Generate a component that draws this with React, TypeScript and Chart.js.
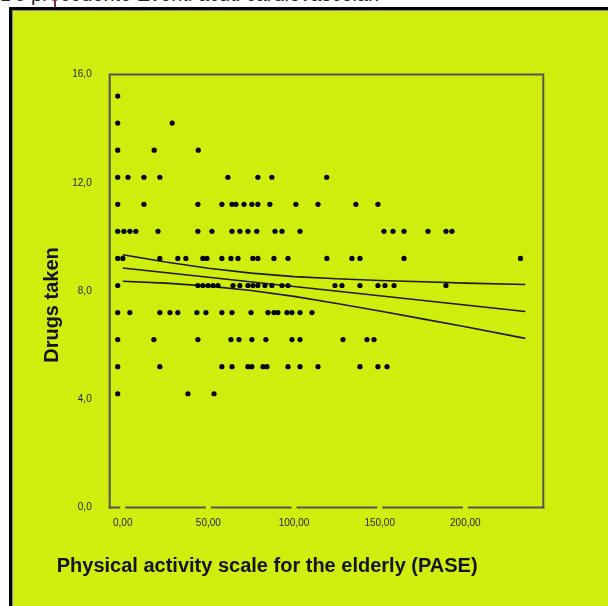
import React, { useEffect, useRef } from "react";
import { Chart, registerables } from "chart.js";

Chart.register(...registerables);

// ---- axis ticks / ranges ----
const xTickValues = [0, 50, 100, 150, 200];
const yTickValues = [0, 4, 8, 12, 16];
const xRange = [-7.6, 245.5];
const yRange = [0, 16];

const xTitle = "Physical activity scale for the elderly (PASE)";
const yTitle = "Drugs taken";
const headerText = "De precedente   Eventi acuti cardiovascolari";

// ---- scatter data: PASE values for each number of drugs taken ----
const pase15 = [0];
const pase14 = [0, 31.8];
const pase13 = [0, 21.3, 47.0];
const pase12 = [0, 6.0, 15.3, 24.6, 64.3, 81.8, 90.0, 122.0];
const pase11 = [0, 15.3, 46.8, 60.8, 66.7, 69.0, 73.7, 78.3, 81.8, 88.8, 104.0, 116.9, 139.0, 151.9];
const pase10 = [0, 3.6, 7.1, 10.6, 23.5, 46.8, 55.0, 66.7, 71.3, 76.0, 81.2, 91.8, 95.9, 106.4, 155.4, 160.7, 167.1, 181.1, 191.6, 195.1];
const pase9 = [0, 3.0, 24.6, 35.1, 39.8, 49.7, 52.1, 60.8, 66.1, 70.2, 78.9, 81.8, 91.2, 99.4, 122.1, 136.7, 141.4, 167.1, 235.1];
const pase8 = [0, 46.8, 49.7, 52.7, 55.6, 58.5, 67.3, 71.3, 76.0, 78.9, 81.8, 85.9, 90.0, 95.9, 99.4, 126.8, 130.9, 141.4, 151.9, 156.0, 161.3, 191.6];
const pase7 = [0, 7.1, 24.6, 30.5, 35.1, 46.2, 51.5, 60.8, 66.7, 77.8, 87.7, 91.2, 93.5, 98.8, 101.7, 106.4, 113.4];
const pase6 = [0, 21.1, 46.8, 66.1, 70.8, 78.3, 86.5, 101.7, 106.4, 131.5, 145.5, 149.6];
const pase5 = [0, 24.6, 60.8, 66.7, 76.0, 78.3, 84.8, 87.1, 99.4, 106.4, 116.9, 141.4, 151.9, 157.2];
const pase4 = [0, 41.0, 56.2];

const drugCounts = [15, 14, 13, 12, 11, 10, 9, 8, 7, 6, 5, 4];
const paseRows = [pase15, pase14, pase13, pase12, pase11, pase10, pase9, pase8, pase7, pase6, pase5, pase4];

// ---- regression line and confidence band ----
const fitX = [0, 235];
const fitY = [8.85, 7.24];
const bandX = [0, 25, 50, 75, 100, 125, 150, 175, 200, 235];
const upperY = [9.34, 9.07, 8.84, 8.66, 8.53, 8.45, 8.39, 8.34, 8.29, 8.24];
const lowerY = [8.36, 8.29, 8.18, 8.02, 7.8, 7.54, 7.26, 6.97, 6.68, 6.25];

const BG = "rgb(207, 238, 14)";
const FONT = '"Liberation Sans", Arial, sans-serif';

const framePlugin = {
  id: "frame",
  beforeDatasetsDraw(chart: any) {
    const { ctx, chartArea: a, scales } = chart;
    ctx.save();
    ctx.strokeStyle = "#555";
    ctx.lineWidth = 2;
    ctx.beginPath();
    ctx.moveTo(a.left, a.bottom + 1);
    ctx.lineTo(a.left, a.top);
    ctx.lineTo(a.right, a.top);
    ctx.lineTo(a.right, a.bottom + 1);
    ctx.stroke();
    ctx.beginPath();
    let start = a.left - 1;
    for (const v of xTickValues) {
      const p = scales.x.getPixelForValue(v);
      ctx.moveTo(start, a.bottom);
      ctx.lineTo(p - 2.5, a.bottom);
      start = p + 2.5;
    }
    ctx.moveTo(start, a.bottom);
    ctx.lineTo(a.right + 1, a.bottom);
    ctx.stroke();
    ctx.restore();
  },
  afterDraw(chart: any) {
    const { ctx, chartArea: a } = chart;
    ctx.save();
    ctx.font = `bold 20px ${FONT}`;
    ctx.fillStyle = "#141414";
    ctx.textAlign = "left";
    ctx.textBaseline = "middle";
    ctx.fillText(xTitle, a.left - 53, a.bottom + 59);
    ctx.translate(a.left - 57, (a.top + a.bottom) / 2 + 14);
    ctx.rotate(-Math.PI / 2);
    ctx.textAlign = "center";
    ctx.fillText(yTitle, 0, 0);
    ctx.restore();
  },
};

export default function App() {
  const ref = useRef<HTMLCanvasElement | null>(null);

  useEffect(() => {
    if (!ref.current) return;
    const points: { x: number; y: number }[] = [];
    drugCounts.forEach((d, i) => {
      paseRows[i].forEach((p) => points.push({ x: p, y: d }));
    });

    const lineDs = (xs: number[], ys: number[]) => ({
      type: "scatter" as const,
      data: xs.map((x, i) => ({ x, y: ys[i] })),
      showLine: true,
      borderColor: "#1c1c0c",
      borderWidth: 1.6,
      pointRadius: 0,
      xAxisID: "x",
      yAxisID: "y",
    });

    // marker offset (markers are drawn slightly up-left of their values in the source)
    const dx = 5 / 1.713;
    const dy = 5.5 / 27.06;

    const chart = new Chart(ref.current, {
      type: "scatter",
      data: {
        datasets: [
          {
            data: points,
            pointRadius: 2.6,
            pointBackgroundColor: "#000",
            pointBorderWidth: 0,
            xAxisID: "xd",
            yAxisID: "yd",
          },
          lineDs(fitX, fitY),
          lineDs(bandX, upperY),
          lineDs(bandX, lowerY),
        ],
      },
      plugins: [framePlugin],
      options: {
        animation: false,
        responsive: false,
        layout: { padding: { left: 0, top: 74.5, right: 64.7, bottom: 0 } },
        plugins: { legend: { display: false }, tooltip: { enabled: false } },
        scales: {
          x: {
            type: "linear",
            position: "bottom",
            min: xRange[0],
            max: xRange[1],
            grid: { display: false, drawTicks: false },
            border: { display: false },
            afterBuildTicks: (s: any) => {
              s.ticks = xTickValues.map((v) => ({ value: v }));
            },
            afterFit: (s: any) => {
              s.height = 98.5;
            },
            ticks: {
              autoSkip: false,
              maxRotation: 0,
              padding: 10,
              color: "#2a2a1a",
              font: { size: 10, family: FONT },
              callback: (v: any) => Number(v).toFixed(2).replace(".", ","),
            },
          },
          y: {
            type: "linear",
            position: "left",
            min: yRange[0],
            max: yRange[1],
            grid: { display: false, drawTicks: false },
            border: { display: false },
            afterBuildTicks: (s: any) => {
              s.ticks = yTickValues.map((v) => ({ value: v }));
            },
            afterFit: (s: any) => {
              s.width = 109.7;
            },
            ticks: {
              autoSkip: false,
              padding: 18,
              color: "#2a2a1a",
              font: { size: 10, family: FONT },
              callback: (v: any) => Number(v).toFixed(1).replace(".", ","),
            },
          },
          xd: {
            type: "linear",
            display: false,
            min: xRange[0] + dx,
            max: xRange[1] + dx,
          },
          yd: {
            type: "linear",
            display: false,
            min: yRange[0] - dy,
            max: yRange[1] - dy,
          },
        },
      } as any,
    });
    return () => chart.destroy();
  }, []);

  return (
    <div
      style={{
        position: "fixed",
        left: 0,
        top: 0,
        width: 608,
        height: 606,
        overflow: "hidden",
        background: "#fff",
      }}
    >
      <div
        style={{
          position: "absolute",
          left: 0,
          top: -16.5,
          whiteSpace: "nowrap",
          font: `20px ${FONT}`,
          color: "#222",
          lineHeight: "20px",
        }}
      >
        {headerText}
      </div>
      <div
        style={{
          position: "absolute",
          left: 54,
          top: 0,
          width: 2,
          height: 8,
          background: "#7a3050",
        }}
      />
      <div
        style={{
          position: "absolute",
          left: 9,
          top: 7,
          width: 700,
          height: 700,
          border: "3px solid #000",
          boxShadow: "inset 0 0 0 1px #8a8a80",
          background: BG,
        }}
      />
      <canvas
        ref={ref}
        width={608}
        height={606}
        style={{ position: "absolute", left: 0, top: 0, width: 608, height: 606 }}
      />
    </div>
  );
}
